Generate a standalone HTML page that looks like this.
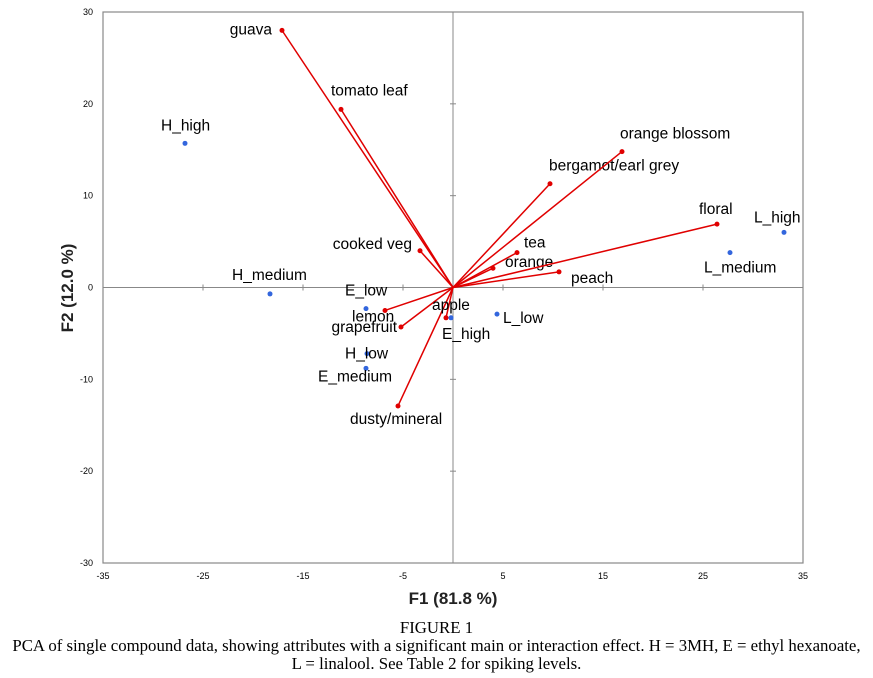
<!DOCTYPE html>
<html><head><meta charset="utf-8"><style>
body{margin:0;background:#fff;width:873px;height:678px;overflow:hidden;font-family:"Liberation Sans",sans-serif}
svg text{font-family:"Liberation Sans","DejaVu Sans",sans-serif}
.cap{position:absolute;left:0;width:873px;text-align:center;font-family:"Liberation Serif",serif;font-size:16.8px;color:#000;line-height:18px;white-space:nowrap}
</style></head><body>
<svg id="chart" width="873" height="620" style="position:absolute;left:0;top:0"></svg>
<div class="cap" style="top:619px">FIGURE 1</div>
<div class="cap" style="top:637px">PCA of single compound data, showing attributes with a significant main or interaction effect. H = 3MH, E = ethyl hexanoate,<br>L = linalool. See Table 2 for spiking levels.</div>
<script>
const attrNames=["guava","tomato leaf","cooked veg","lemon","grapefruit","dusty/mineral","apple","tea","orange","peach","bergamot/earl grey","orange blossom","floral"];
const attrX=[-17.1,-11.2,-3.3,-6.8,-5.2,-5.5,-0.7,6.4,4.0,10.6,9.7,16.9,26.4];
const attrY=[28.0,19.4,4.0,-2.5,-4.3,-12.9,-3.3,3.8,2.1,1.7,11.3,14.8,6.9];
const obsNames=["H_high","H_medium","E_low","H_low","E_medium","E_high","L_low","L_medium","L_high"];
const obsX=[-26.8,-18.3,-8.7,-8.6,-8.7,-0.2,4.4,27.7,33.1];
const obsY=[15.7,-0.7,-2.3,-7.2,-8.8,-3.3,-2.9,3.8,6.0];
const xTicks=[-35,-25,-15,-5,5,15,25,35];
const yTicks=[30,20,10,0,-10,-20,-30];
// label offsets (layout, not data)
const attrOff=[[-10,4,"end"],[-10,-14,"start"],[-8,-2,"end"],[-33,11,"start"],[-4,5,"end"],[-48,18,"start"],[-14,-8,"start"],[7,-5,"start"],[12,-1,"start"],[12,11,"start"],[-1,-13,"start"],[-2,-13,"start"],[-18,-10,"start"]];
const obsOff=[[-24,-13,"start"],[-38,-14,"start"],[-21,-13,"start"],[-22,5,"start"],[-48,13,"start"],[-9,21,"start"],[6,9,"start"],[-26,20,"start"],[-30,-10,"start"]];
const L=103,R=803,T=12,B=563;
const sx=v=>L+(v+35)/70*(R-L);
const sy=v=>T+(30-v)/60*(B-T);
const svg=document.getElementById('chart');
const NS="http://www.w3.org/2000/svg";
function mk(tag,attrs,parent){const e=document.createElementNS(NS,tag);for(const k in attrs)e.setAttribute(k,attrs[k]);(parent||svg).appendChild(e);return e;}
let fr=mk('rect',{x:L,y:T,width:R-L,height:B-T,fill:'none',stroke:'#888','stroke-width':1.2});


let ax=mk('line',{x1:sx(0),x2:sx(0),y1:T,y2:B,stroke:'#888','stroke-width':1});


let ay=mk('line',{x1:L,x2:R,y1:sy(0),y2:sy(0),stroke:'#888','stroke-width':1});


xTicks.forEach(t=>{
 let tk=mk('line',{x1:sx(t),x2:sx(t),y1:sy(0)-3,y2:sy(0)+3,stroke:'#888'});
 
 
 let tx=mk('text',{x:sx(t),y:B+16,'font-size':9,'text-anchor':'middle',fill:'#000'});tx.textContent=t;
 
 
});
yTicks.forEach(t=>{
 let tk=mk('line',{x1:sx(0)-3,x2:sx(0)+3,y1:sy(t),y2:sy(t),stroke:'#888'});
 
 
 let tx=mk('text',{x:L-10,y:sy(t)+3,'font-size':9,'text-anchor':'end',fill:'#000'});tx.textContent=t;
 
 
});
let xt=mk('text',{x:453,y:604,'font-size':17,'font-weight':'bold','text-anchor':'middle',fill:'#222'});xt.textContent='F1 (81.8 %)';


let yt=mk('text',{x:0,y:0,'font-size':17,'font-weight':'bold','text-anchor':'middle',fill:'#222',transform:'translate(73,288) rotate(-90)'});yt.textContent='F2 (12.0 %)';


attrNames.forEach((n,i)=>{
 const x=sx(attrX[i]),y=sy(attrY[i]);
 let ln=mk('line',{x1:sx(0),y1:sy(0),x2:x,y2:y,stroke:'#e00000','stroke-width':1.5});
 
 
 let c=mk('circle',{cx:x,cy:y,r:2.5,fill:'#e00000'});
 
 
 const o=attrOff[i];
 let tx=mk('text',{x:x+o[0],y:y+o[1],'font-size':15.5,'text-anchor':o[2],fill:'#000'});tx.textContent=n;
 
 
});
obsNames.forEach((n,i)=>{
 const x=sx(obsX[i]),y=sy(obsY[i]);
 let c=mk('circle',{cx:x,cy:y,r:2.5,fill:'#3366dd'});
 
 
 const o=obsOff[i];
 let tx=mk('text',{x:x+o[0],y:y+o[1],'font-size':15.5,'text-anchor':o[2],fill:'#000'});tx.textContent=n;
 
 
});
</script>
</body></html>
